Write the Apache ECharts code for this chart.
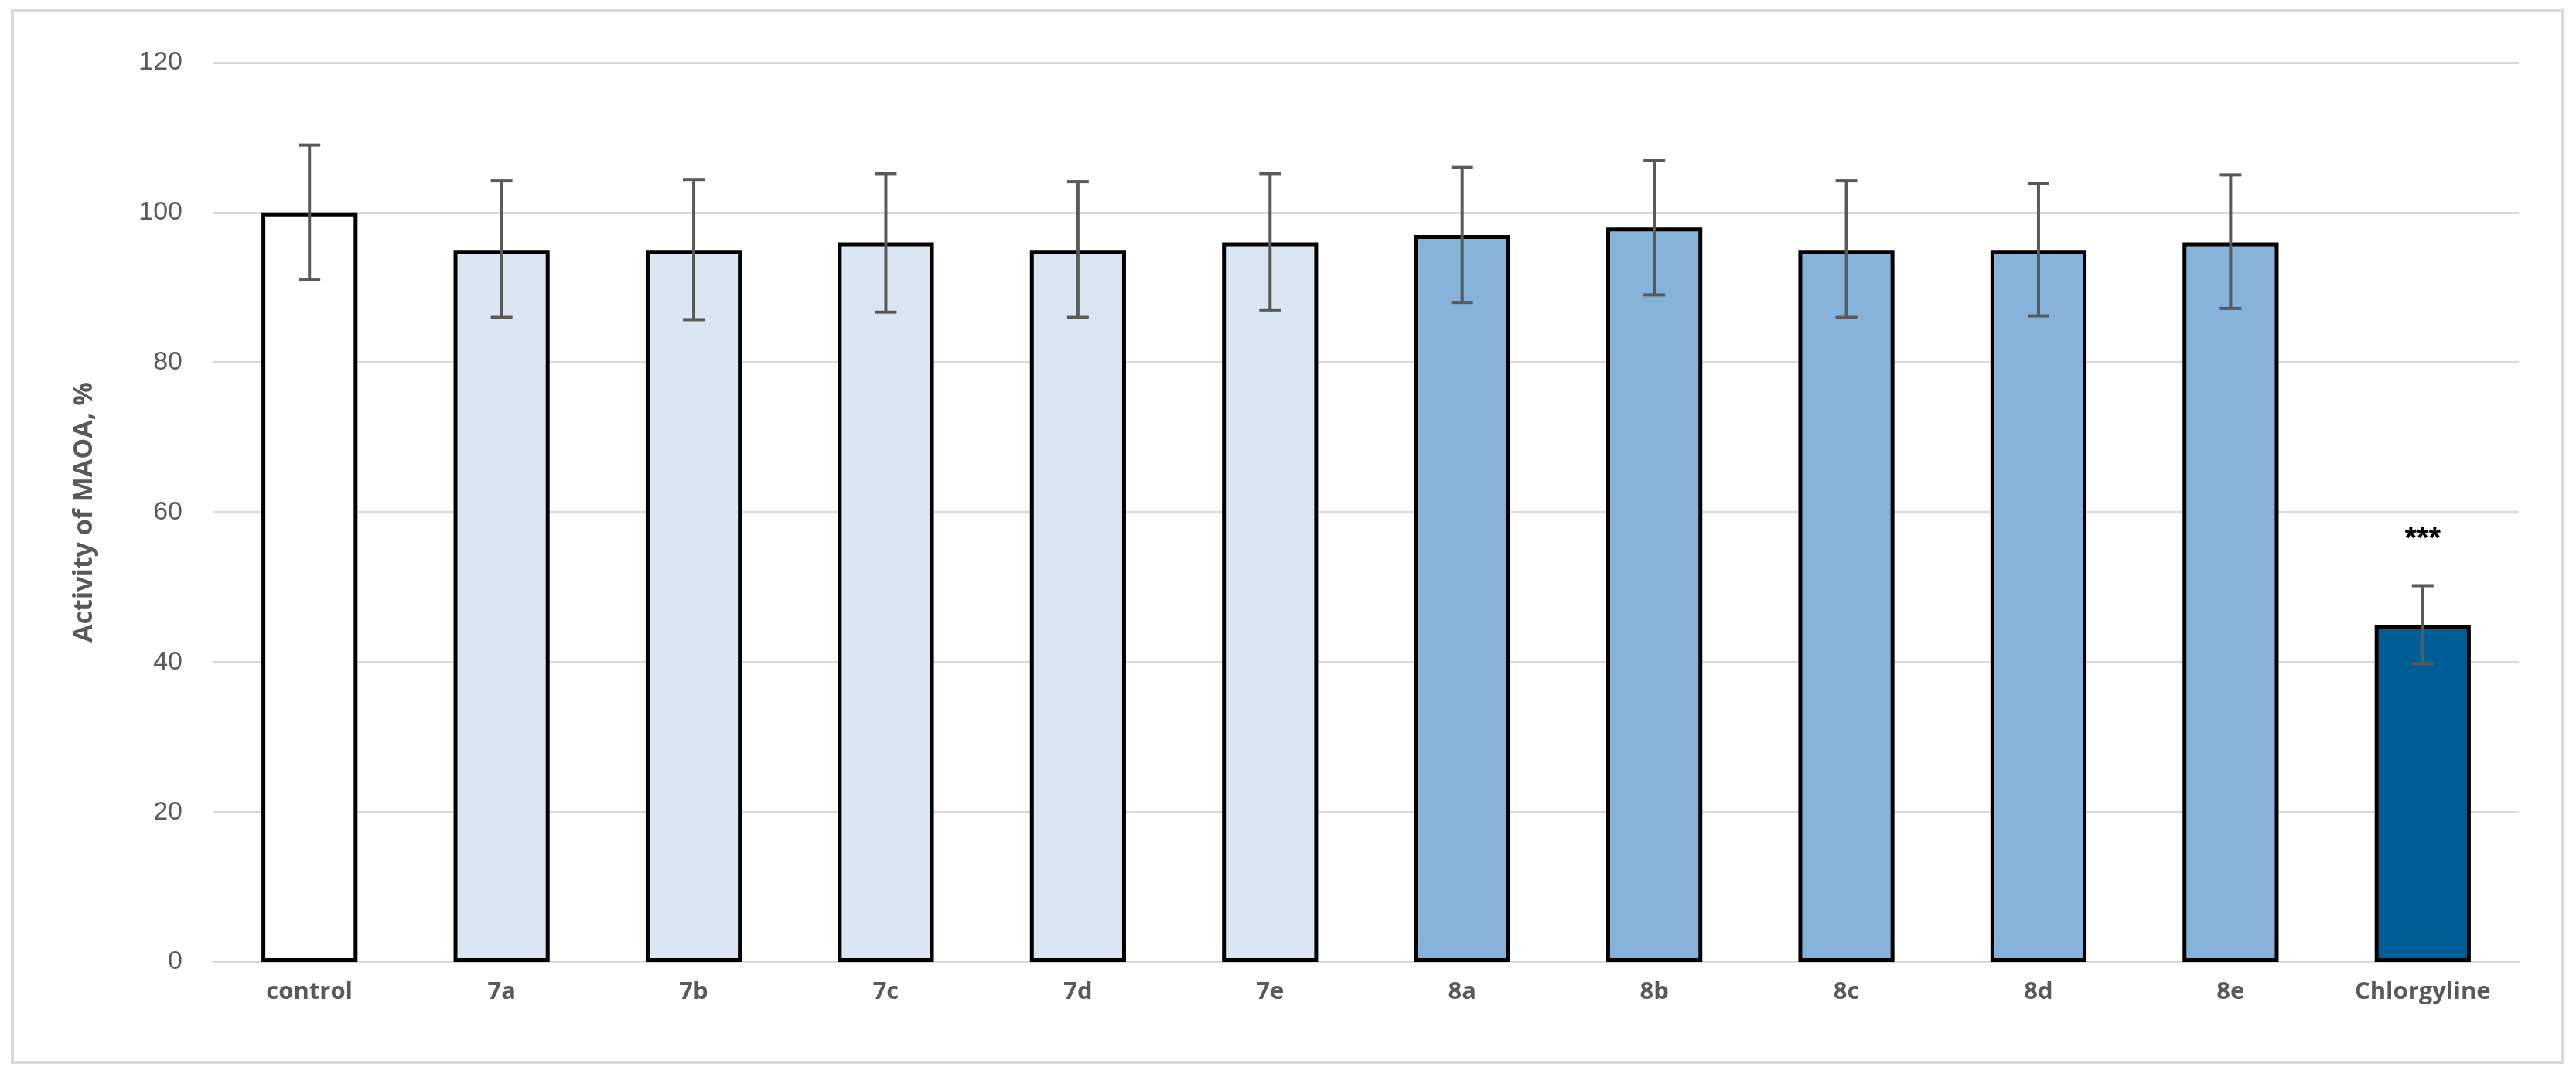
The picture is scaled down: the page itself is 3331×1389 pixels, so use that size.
<!DOCTYPE html>
<html><head><meta charset="utf-8">
<script src="https://cdn.jsdelivr.net/npm/echarts@6/dist/echarts.min.js"></script>
<style>html,body{margin:0;padding:0;background:#fff}#c{width:3331px;height:1389px}</style>
</head><body><div id="c"></div>
<script>
const categories = ['control','7a','7b','7c','7d','7e','8a','8b','8c','8d','8e','Chlorgyline'];
const values = [100,95,95,96,95,96,97,98,95,95,96,45];
const errLow = [91,86,85.7,86.7,86,87,88,89,86,86.2,87.2,39.8];
const errHigh = [109,104.2,104.4,105.2,104.1,105.2,106,107,104.2,103.9,105,50.2];
const colors = ['#FFFFFF','#DAE7F3','#DAE7F3','#DAE7F3','#DAE7F3','#DAE7F3','#86B3DA','#86B3DA','#86B3DA','#86B3DA','#86B3DA','#005E96'];
const yTicks = {min:0,max:120,interval:20};
const sig = ['','','','','','','','','','','','***'];

const chart = echarts.init(document.getElementById('c'));
chart.setOption({
  animation:false,
  graphic:[{type:'rect',shape:{x:16,y:14,width:3298,height:1360},style:{fill:'none',stroke:'#d9d9d9',lineWidth:4}}],
  grid:{left:276,right:74,top:81,bottom:145},
  xAxis:{type:'category',data:categories,
    axisLine:{lineStyle:{color:'#d9d9d9',width:3}},axisTick:{show:false},
    axisLabel:{color:'#595959',fontWeight:'bold',fontSize:31,fontFamily:'Open Sans',margin:24}},
  yAxis:{type:'value',min:yTicks.min,max:yTicks.max,interval:yTicks.interval,
    name:'Activity of MAOA, %',nameLocation:'middle',nameGap:150,
    nameTextStyle:{color:'#595959',fontWeight:'bold',fontSize:34,fontFamily:'Open Sans'},
    axisLine:{show:false},axisTick:{show:false},
    axisLabel:{color:'#595959',fontSize:34,fontFamily:'Liberation Sans',margin:40},
    splitLine:{lineStyle:{color:'#d9d9d9',width:3}}},
  series:[
    {type:'bar',barWidth:'50%',
      data:values.map((v,i)=>({value:v,itemStyle:{color:colors[i],borderColor:'#000',borderWidth:5}})),
      z:2},
    {type:'custom',z:5,
      data:categories.map((c,i)=>[i,errLow[i],errHigh[i],sig[i]]),
      renderItem:function(params,api){
        const x=api.coord([api.value(0),0])[0];
        const lo=api.coord([api.value(0),api.value(1)])[1];
        const hi=api.coord([api.value(0),api.value(2)])[1];
        const w=14;
        const st={stroke:'#595959',lineWidth:4};
        const ch=[
          {type:'line',shape:{x1:x,y1:lo,x2:x,y2:hi},style:st},
          {type:'line',shape:{x1:x-w,y1:lo,x2:x+w,y2:lo},style:st},
          {type:'line',shape:{x1:x-w,y1:hi,x2:x+w,y2:hi},style:st}];
        const s=api.value(3);
        if(s){ch.push({type:'text',style:{text:s,x:x,y:hi-40,align:'center',verticalAlign:'bottom',fill:'#000',font:'bold 40px "Liberation Sans"'}});}
        return {type:'group',children:ch};
      }}
  ]
});
</script></body></html>
